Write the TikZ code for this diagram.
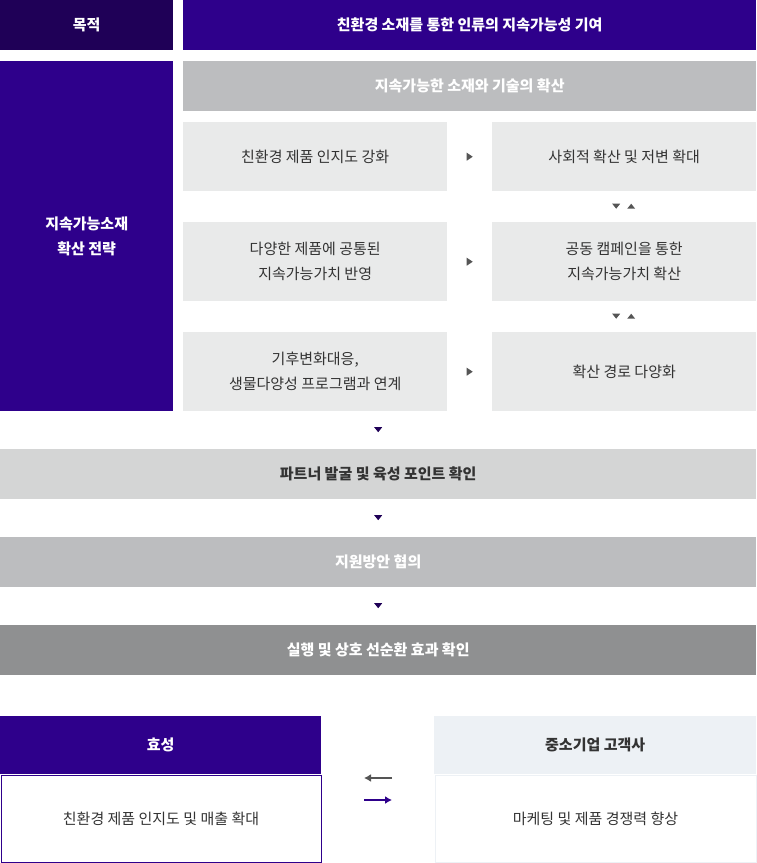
\documentclass[tikz,border=0pt]{standalone}
\usepackage{fontspec}
\setmainfont{Noto Sans CJK KR}
\usetikzlibrary{positioning, calc, arrows.meta}
\definecolor{hsnavy}{HTML}{1F0057}
\definecolor{hspurple}{HTML}{2E008B}
\definecolor{midgray}{HTML}{BCBDBF}
\definecolor{lightgray}{HTML}{E9EAEA}
\definecolor{partnergray}{HTML}{D4D5D5}
\definecolor{darkgray}{HTML}{8F9091}
\definecolor{clientblue}{HTML}{EDF1F5}
\definecolor{textgray}{HTML}{333333}
\definecolor{tipgray}{HTML}{555555}
\tikzset{
    box/.style={draw=none, inner sep=0pt, anchor=north west, align=center,
        font=\fontsize{15}{25}\selectfont}, % every rectangle of the chart
    titlebox/.style={box, text=white, font=\fontsize{15}{25}\selectfont\bfseries},
    stepbox/.style={box, fill=lightgray, text=textgray, minimum width=264pt},
    flowbar/.style={box, minimum width=756pt, minimum height=50pt,
        font=\fontsize{15}{25}\selectfont\bfseries},
    tipright/.style={fill=tipgray},
    tipdown/.style={fill=hsnavy},
}
\begin{document}
\begin{tikzpicture}[x=1pt, y=-1pt]
    \useasboundingbox (0,0) rectangle (756,863);
    % Top
    \node[titlebox, fill=hsnavy, minimum width=173pt, minimum height=50pt] (goal) at (0,0) {목적};
    \node[titlebox, fill=hspurple, minimum width=573pt, minimum height=50pt] (aim) at (183,0) {친환경 소재를 통한 인류의 지속가능성 기여};
    \node[titlebox, fill=hspurple, minimum width=173pt, minimum height=350pt] (strategy) at (0,61) {지속가능소재\\확산 전략};
    \node[titlebox, fill=midgray, minimum width=573pt, minimum height=50pt] (spread) at (183,61) {지속가능한 소재와 기술의 확산};

    % Steps
    \node[stepbox, minimum height=69pt] (a1) at (183,122) {친환경 제품 인지도 강화};
    \node[stepbox, minimum height=69pt] (b1) at (492,122) {사회적 확산 및 저변 확대};
    \node[stepbox, minimum height=79pt] (a2) at (183,222) {다양한 제품에 공통된\\지속가능가치 반영};
    \node[stepbox, minimum height=79pt] (b2) at (492,222) {공동 캠페인을 통한\\지속가능가치 확산};
    \node[stepbox, minimum height=79pt] (a3) at (183,332) {기후변화대응,\\생물다양성 프로그램과 연계};
    \node[stepbox, minimum height=79pt] (b3) at (492,332) {확산 경로 다양화};

    % Flow
    \node[flowbar, fill=partnergray, text=textgray] (partner) at (0,449) {파트너 발굴 및 육성 포인트 확인};
    \node[flowbar, fill=midgray, text=white] (support) at (0,537) {지원방안 협의};
    \node[flowbar, fill=darkgray, text=white] (execute) at (0,625) {실행 및 상호 선순환 효과 확인};

    % Bottom
    \node[titlebox, fill=hspurple, minimum width=321pt, minimum height=58pt] (hyosung) at (0,716) {효성};
    \node[box, draw=hspurple, line width=1pt, text=textgray, minimum width=320pt, minimum height=87pt] (hsgain) at (0.5,774.5) {친환경 제품 인지도 및 매출 확대};
    \node[box, fill=clientblue, text=textgray, minimum width=322pt, minimum height=58pt,
        font=\fontsize{15}{25}\selectfont\bfseries] (client) at (434,716) {중소기업 고객사};
    \node[box, draw=clientblue, line width=1pt, text=textgray, minimum width=321pt, minimum height=87pt] (clgain) at (434.5,774.5) {마케팅 및 제품 경쟁력 향상};

    % Tips between steps
    \foreach \r in {1,2,3}
        \fill[tipright] ($(a\r.east)!0.5!(b\r.west)$) ++(-3,-4) -- ++(6,4) -- ++(-6,4) -- cycle;
    \foreach \r/\s in {1/2,2/3}{
        \coordinate (m\r) at ($(b\r.south)!0.5!(b\s.north)$);
        \fill[tipgray] (m\r) ++(-12,-3) -- ++(8,0) -- ++(-4,5) -- cycle;
        \fill[tipgray] (m\r) ++(3,2) -- ++(8,0) -- ++(-4,-5) -- cycle;
    }
    \foreach \u/\v in {strategy/partner,partner/support,support/execute}{
        \coordinate (d) at ($(\u.south)!0.5!(\v.north)$);
        \fill[tipdown] (d -| partner.north) ++(-4,-3) -- ++(8,0) -- ++(-4,5) -- cycle;
    }

    % Exchange
    \coordinate (l1) at (364,778);
    \coordinate (r1) at (392,778);
    \coordinate (l2) at (364,800);
    \coordinate (r2) at (392,800);
    \draw[tipgray, line width=2pt, -{Latex[length=7pt,width=8pt]}] (r1) -- (l1);
    \draw[hspurple, line width=2pt, -{Latex[length=7pt,width=8pt]}] (l2) -- (r2);
\end{tikzpicture}
\end{document}
